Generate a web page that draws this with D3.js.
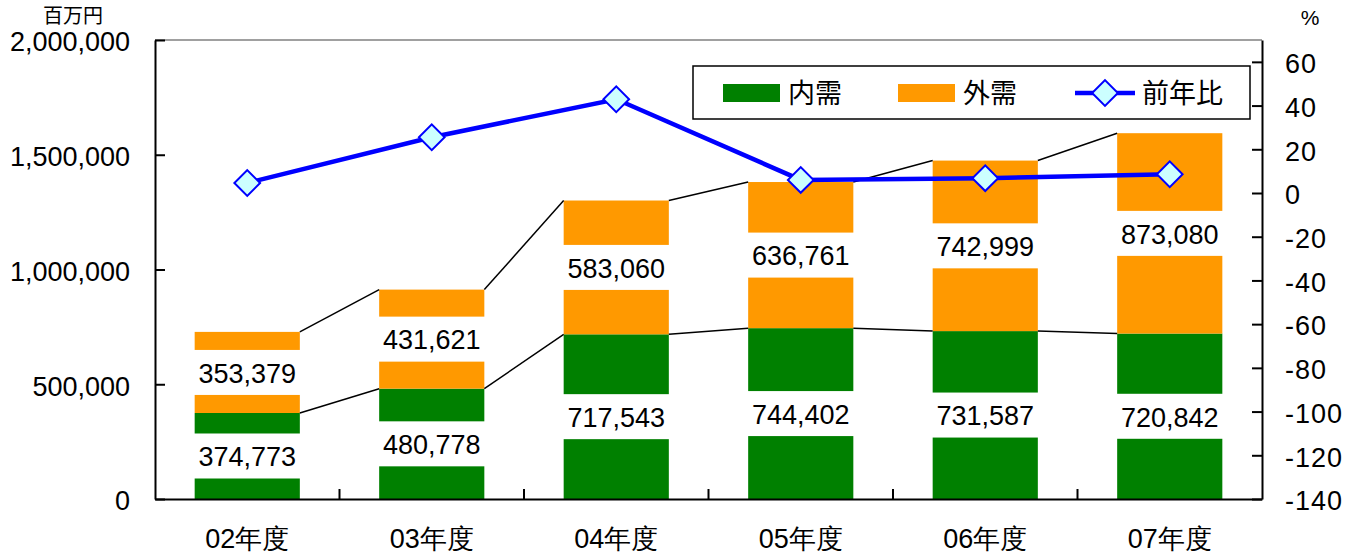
<!DOCTYPE html>
<html>
<head>
<meta charset="utf-8">
<script src="https://cdn.jsdelivr.net/npm/d3@7"></script>
<style>
  body { margin: 0; background: #fff; }
  svg { display: block; font-family: "Liberation Sans", Arial, "Noto Sans CJK JP", sans-serif; }
  .axis text { font-size: 27px; fill: #000; }
  .axis path, .axis line { stroke: #000; stroke-width: 2px; }
</style>
</head>
<body>
<div class="d3-wrapper"></div>
<script>
const categories = ['02年度', '03年度', '04年度', '05年度', '06年度', '07年度'];
const domestic = [374773, 480778, 717543, 744402, 731587, 720842]; // 内需
const foreign = [353379, 431621, 583060, 636761, 742999, 873080];  // 外需
const yoy = [4.6, 25.5, 42.9, 6.0, 6.8, 8.6];                     // 前年比 (%)
const leftTicks = [0, 500000, 1000000, 1500000, 2000000];
const rightTicks = [-140, -120, -100, -80, -60, -40, -20, 0, 20, 40, 60];

const MARGIN = { top: 40, right: 83, bottom: 57, left: 155 };
const OUTER_WIDTH = 1345,
  OUTER_HEIGHT = 556,
  INNER_WIDTH = OUTER_WIDTH - MARGIN.left - MARGIN.right,
  INNER_HEIGHT = OUTER_HEIGHT - MARGIN.top - MARGIN.bottom;

const COLORS = { domestic: '#008000', foreign: '#FF9900', line: '#0000FF', marker: '#CCFFFF' };
const LABEL_BOX = 45;

const xScale = d3.scaleBand().domain(categories).range([0, INNER_WIDTH]).paddingInner(0.43).paddingOuter(0.215);
const yScale = d3.scaleLinear().domain([0, 2000000]).range([INNER_HEIGHT, 0]);
const y2Scale = d3.scaleLinear().domain([-140, 70]).range([INNER_HEIGHT, 0]);

const rows = categories.map((c, i) => ({
  cat: c, dom: domestic[i], frn: foreign[i], total: domestic[i] + foreign[i], yoy: yoy[i]
}));

const svg = d3.select('.d3-wrapper').append('svg')
  .attr('width', OUTER_WIDTH)
  .attr('height', OUTER_HEIGHT);

const g = svg.append('g').attr('transform', `translate(${MARGIN.left}, ${MARGIN.top})`);

// top frame line
g.append('line')
  .attr('x1', 0).attr('x2', INNER_WIDTH)
  .attr('y1', 0).attr('y2', 0)
  .attr('stroke', '#808080').attr('stroke-width', 1.5);

// bars
const bw = xScale.bandwidth();
const barG = g.append('g');
barG.selectAll('rect.dom').data(rows).enter().append('rect')
  .attr('x', d => xScale(d.cat))
  .attr('y', d => yScale(d.dom))
  .attr('width', bw)
  .attr('height', d => yScale(0) - yScale(d.dom))
  .attr('fill', COLORS.domestic);
barG.selectAll('rect.frn').data(rows).enter().append('rect')
  .attr('x', d => xScale(d.cat))
  .attr('y', d => yScale(d.total))
  .attr('width', bw)
  .attr('height', d => yScale(d.dom) - yScale(d.total))
  .attr('fill', COLORS.foreign);

// series lines between bars
const seriesLines = g.append('g').attr('stroke', '#000').attr('stroke-width', 1.5).attr('fill', 'none');
['dom', 'total'].forEach(key => {
  seriesLines.selectAll(null).data(rows.slice(0, -1)).enter().append('line')
    .attr('x1', d => xScale(d.cat) + bw)
    .attr('y1', d => yScale(d[key]))
    .attr('x2', (d, i) => xScale(rows[i + 1].cat))
    .attr('y2', (d, i) => yScale(rows[i + 1][key]));
});

// data labels with white boxes
const labels = [];
rows.forEach(d => {
  labels.push({ cat: d.cat, mid: d.dom / 2, value: d.dom });
  labels.push({ cat: d.cat, mid: d.dom + d.frn / 2, value: d.frn });
});
const labelG = g.append('g').selectAll('g').data(labels).enter().append('g')
  .attr('transform', d => `translate(${xScale(d.cat) + bw / 2}, ${yScale(d.mid)})`);
labelG.append('rect')
  .attr('x', -bw / 2 - 2).attr('y', -LABEL_BOX / 2)
  .attr('width', bw + 4).attr('height', LABEL_BOX)
  .attr('fill', '#fff');
labelG.append('text')
  .attr('text-anchor', 'middle')
  .attr('dy', '0.38em')
  .style('font-size', '27px')
  .text(d => d3.format(',')(d.value));

// axes
const xAxis = g.append('g')
  .attr('class', 'axis')
  .attr('transform', `translate(0, ${INNER_HEIGHT})`)
  .call(d3.axisBottom(xScale).tickSize(0).tickSizeOuter(0).tickPadding(33));
xAxis.selectAll('text').attr('dy', '0.6em');
xAxis.selectAll('.sep').data(d3.range(1, categories.length)).enter().append('line')
  .attr('x1', i => i * INNER_WIDTH / categories.length)
  .attr('x2', i => i * INNER_WIDTH / categories.length)
  .attr('y1', 0).attr('y2', -10);

const yAxis = g.append('g')
  .attr('class', 'axis')
  .call(d3.axisLeft(yScale).tickValues(leftTicks).tickFormat(d3.format(',')).tickSizeInner(-10).tickSizeOuter(0).tickPadding(25));
yAxis.selectAll('text').attr('dy', '0.4em');

const y2Axis = g.append('g')
  .attr('class', 'axis')
  .attr('transform', `translate(${INNER_WIDTH}, 0)`)
  .call(d3.axisRight(y2Scale).tickValues(rightTicks).tickFormat(d3.format('d')).tickSizeInner(-10).tickSizeOuter(0).tickPadding(23));
y2Axis.selectAll('text').attr('dy', '0.4em')
  .text(d => d < 0 ? '-' + Math.abs(d) : d).style('letter-spacing', '1px');

// unit labels
svg.append('text').attr('x', 73).attr('y', 23).attr('text-anchor', 'middle')
  .style('font-size', '20px').text('百万円');
svg.append('text').attr('x', 1310).attr('y', 25).attr('text-anchor', 'middle')
  .style('font-size', '21px').text('%');

// 前年比 line
const line = d3.line().x(d => xScale(d.cat) + bw / 2).y(d => y2Scale(d.yoy));
g.append('path').datum(rows)
  .attr('d', line)
  .attr('fill', 'none')
  .attr('stroke', COLORS.line)
  .attr('stroke-width', 4.5);
const diamond = d3.symbol().type(d3.symbolSquare).size(330);
g.append('g').selectAll('path').data(rows).enter().append('path')
  .attr('d', diamond)
  .attr('transform', d => `translate(${xScale(d.cat) + bw / 2}, ${y2Scale(d.yoy)}) rotate(45)`)
  .attr('fill', COLORS.marker)
  .attr('stroke', COLORS.line)
  .attr('stroke-width', 2);

// legend
const legend = svg.append('g').attr('transform', 'translate(693, 66)');
legend.append('rect').attr('width', 557).attr('height', 53)
  .attr('fill', '#fff').attr('stroke', '#000').attr('stroke-width', 1.5);
const legendItems = [
  { name: '内需', type: 'rect', color: COLORS.domestic, x: 30 },
  { name: '外需', type: 'rect', color: COLORS.foreign, x: 205 },
  { name: '前年比', type: 'line', color: COLORS.line, x: 382 }
];
const li = legend.selectAll('g').data(legendItems).enter().append('g')
  .attr('transform', d => `translate(${d.x}, 27)`);
li.filter(d => d.type === 'rect').append('rect')
  .attr('x', 0).attr('y', -9).attr('width', 57).attr('height', 18)
  .attr('fill', d => d.color);
li.filter(d => d.type === 'line').append('line')
  .attr('x1', 0).attr('x2', 60).attr('stroke', d => d.color).attr('stroke-width', 4.5);
li.filter(d => d.type === 'line').append('path')
  .attr('d', diamond)
  .attr('transform', 'translate(30, 0) rotate(45)')
  .attr('fill', COLORS.marker).attr('stroke', COLORS.line).attr('stroke-width', 2);
li.append('text')
  .attr('x', d => d.type === 'line' ? 67 : 65)
  .attr('dy', '0.36em')
  .style('font-size', '27px')
  .text(d => d.name);
</script>
</body>
</html>
